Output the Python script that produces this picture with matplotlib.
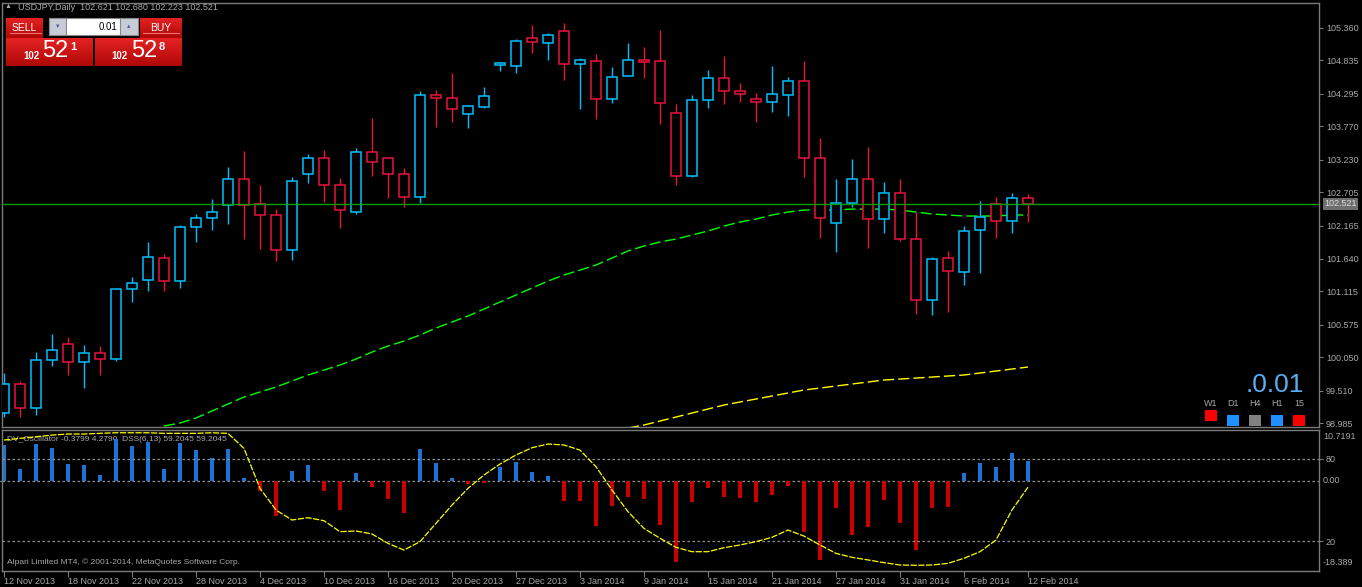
import numpy as np
import matplotlib
matplotlib.use("Agg")
import matplotlib.pyplot as plt
from matplotlib.colors import LinearSegmentedColormap
from matplotlib.patches import Rectangle

plt.rcParams['font.family'] = ['Liberation Sans', 'DejaVu Sans']

W, H = 1362, 587

# USDJPY daily candles, 12 Nov 2013 .. 12 Feb 2014
opens = [99.147, 99.614, 99.227, 100.000, 100.258, 99.968, 100.113, 100.017, 101.144, 101.289,
         101.644, 101.273, 102.144, 102.288, 102.498, 102.917, 102.514, 102.337, 101.773, 102.997,
         103.255, 102.820, 102.395, 103.352, 103.255, 102.997, 102.637, 104.270, 104.222, 103.974,
         104.087, 104.763, 104.747, 105.189, 105.118, 105.302, 104.770, 104.818, 104.206, 104.577,
         104.834, 104.818, 103.980, 102.975, 104.190, 104.544, 104.335, 104.206, 104.158, 104.270,
         104.496, 103.255, 102.208, 102.530, 102.917, 102.272, 102.691, 101.950, 100.967, 101.644,
         101.418, 102.095, 102.514, 102.240, 102.621]
highs = [99.791, 99.667, 100.134, 100.424, 100.376, 100.247, 100.231, 101.149, 101.343, 101.907,
         101.708, 102.181, 102.358, 102.599, 103.115, 103.373, 102.825, 102.438, 102.954, 103.325,
         103.389, 102.938, 103.421, 103.905, 103.271, 103.094, 104.340, 104.356, 104.630, 104.114,
         104.404, 104.807, 105.178, 105.403, 105.274, 105.435, 104.871, 104.936, 104.726, 105.113,
         105.049, 105.323, 104.130, 104.275, 104.673, 104.904, 104.469, 104.307, 104.743, 104.565,
         104.823, 103.582, 102.922, 103.244, 103.437, 102.873, 102.917, 102.395, 101.665, 101.762,
         102.164, 102.567, 102.632, 102.696, 102.680]
lows = [99.092, 99.092, 99.119, 99.913, 99.764, 99.559, 99.764, 99.989, 100.945, 101.117,
        101.117, 101.170, 101.911, 102.105, 102.202, 101.960, 101.799, 101.605, 101.621, 102.862,
        102.556, 102.137, 102.363, 102.975, 102.620, 102.475, 102.540, 103.764, 103.845, 103.748,
        104.071, 104.667, 104.635, 104.957, 104.844, 104.522, 104.054, 103.893, 104.151, 104.577,
        104.554, 103.813, 102.830, 102.959, 104.071, 104.135, 104.167, 103.845, 104.006, 103.942,
        102.959, 101.976, 101.750, 102.466, 101.815, 102.056, 101.928, 100.751, 100.735, 100.784,
        101.219, 101.412, 101.976, 102.056, 102.223]
closes = [99.614, 99.227, 100.005, 100.162, 99.968, 100.113, 100.017, 101.144, 101.241, 101.660,
          101.273, 102.144, 102.288, 102.385, 102.917, 102.498, 102.337, 101.773, 102.885, 103.255,
          102.820, 102.417, 103.352, 103.191, 102.997, 102.637, 104.270, 104.222, 104.054, 104.093,
          104.254, 104.786, 105.141, 105.124, 105.237, 104.770, 104.834, 104.206, 104.560, 104.834,
          104.802, 104.142, 102.975, 104.190, 104.544, 104.335, 104.287, 104.158, 104.287, 104.496,
          103.255, 102.288, 102.530, 102.917, 102.272, 102.691, 101.950, 100.967, 101.628, 101.434,
          102.079, 102.305, 102.240, 102.611, 102.521]

# moving averages (green from bar 10, yellow from bar 39)
ma_green_start = 10
ma_green = [98.942, 98.990, 99.071, 99.184, 99.296, 99.409, 99.490, 99.570, 99.667, 99.764,
            99.844, 99.925, 100.021, 100.134, 100.231, 100.311, 100.408, 100.521, 100.618, 100.714,
            100.827, 100.940, 101.053, 101.165, 101.278, 101.375, 101.455, 101.536, 101.649, 101.762,
            101.842, 101.907, 101.955, 102.019, 102.084, 102.164, 102.229, 102.277, 102.342, 102.390,
            102.422, 102.422, 102.422, 102.438, 102.438, 102.438, 102.422, 102.390, 102.358, 102.342,
            102.326, 102.326, 102.326, 102.342, 102.342]
ma_yellow_start = 39
ma_yellow = [98.910, 98.958, 99.022, 99.087, 99.151, 99.216, 99.280, 99.329, 99.377, 99.425,
             99.474, 99.522, 99.554, 99.586, 99.619, 99.651, 99.683, 99.699, 99.715, 99.731,
             99.748, 99.764, 99.796, 99.828, 99.860, 99.893]

# oscillator panel
osc_hist = [7.7, 2.6, 7.9, 7.1, 3.7, 3.5, 1.3, 9.0, 7.5, 8.4,
            2.6, 8.1, 6.7, 5.0, 6.9, 0.7, -2.1, -7.4, 2.2, 3.5,
            -2.1, -6.1, 1.8, -1.2, -3.8, -6.7, 6.9, 3.9, 0.7, -0.6,
            -0.4, 3.0, 4.1, 2.0, 1.1, -4.2, -4.2, -9.5, -5.2, -3.3,
            -3.8, -9.3, -17.2, -4.4, -1.4, -3.3, -3.5, -4.4, -2.9, -1.0,
            -10.8, -16.7, -5.7, -11.4, -9.7, -4.0, -8.9, -14.6, -5.7, -5.5,
            1.8, 3.9, 3.0, 6.0, 4.279]
dss = [93.6, 94.8, 96.0, 97.2, 98.0, 98.0, 98.5, 98.9, 98.9, 98.9,
       98.5, 98.5, 98.5, 98.9, 98.5, 87.5, 58.4, 42.6, 35.3, 37.0,
       34.8, 26.8, 27.3, 25.1, 18.3, 13.4, 19.5, 32.9, 46.2, 58.4,
       68.1, 76.1, 82.7, 88.0, 90.7, 90.0, 86.3, 74.2, 57.2, 41.4,
       29.2, 22.0, 15.4, 12.2, 12.2, 15.1, 17.1, 19.5, 22.7, 28.0,
       23.6, 17.1, 11.0, 8.1, 6.2, 4.2, 2.5, 2.3, 2.5, 3.7,
       7.4, 12.2, 20.7, 42.6, 59.2]

date_labels = ['12 Nov 2013', '18 Nov 2013', '22 Nov 2013', '28 Nov 2013', '4 Dec 2013',
               '10 Dec 2013', '16 Dec 2013', '20 Dec 2013', '27 Dec 2013', '3 Jan 2014',
               '9 Jan 2014', '15 Jan 2014', '21 Jan 2014', '27 Jan 2014', '31 Jan 2014',
               '6 Feb 2014', '12 Feb 2014']
price_ticks = [105.360, 104.835, 104.295, 103.770, 103.230, 102.705, 102.165,
               101.640, 101.115, 100.575, 100.050, 99.510, 98.985]
bid = 102.521

BULL = '#00bfff'
BEAR = '#e8143c'
GRAY = '#a8a8a8'
FRAME = '#7a7a7a'

fig = plt.figure(figsize=(W / 100, H / 100), dpi=100, facecolor='black')
ax = fig.add_axes([2 / W, 1 - 426.7 / H, 1317 / W, 424 / H])
ax_ind = fig.add_axes([2 / W, 1 - 571 / H, 1317 / W, 141 / H], sharex=ax)

for a in (ax, ax_ind):
    a.set_facecolor('black')
    for s in a.spines.values():
        s.set_color(FRAME)
        s.set_linewidth(1)

x = np.arange(len(opens))
o = np.array(opens)
c = np.array(closes)
cols = [BULL if cc > oo else BEAR for oo, cc in zip(o, c)]

# candles
ax.vlines(x, lows, highs, colors=cols, linewidth=1, zorder=2)
body = np.maximum(np.abs(c - o), 0.008)
ax.bar(x, body, bottom=np.minimum(o, c), width=0.6, facecolor='black',
       edgecolor=cols, linewidth=1.1, zorder=3)

ax.plot(x[ma_green_start:], ma_green, color='#00ff00', lw=1, dashes=(8, 3), zorder=1)
ax.plot(x[ma_yellow_start:], ma_yellow, color='#ffff00', lw=1, dashes=(8, 3), zorder=1)
ax.axhline(bid, color='#00a000', lw=1, zorder=4)

ax.set_xlim(-0.125, 82.19)
ax.set_ylim(98.931, 105.763)
ax.yaxis.tick_right()
ax.set_yticks(price_ticks)
ax.set_yticklabels([f'{p:.3f}' for p in price_ticks])
ax.tick_params(axis='y', colors=FRAME, labelcolor=GRAY, labelsize=6.5, length=3, pad=2,
               labelleft=False, left=False)
ax.tick_params(axis='x', length=0, labelbottom=False)
ax.annotate(f'{bid:.3f}', xy=(1.0, bid), xycoords=('axes fraction', 'data'),
            xytext=(5, 0), textcoords='offset pixels', va='center', ha='left',
            fontsize=6.5, color='#dcdcdc',
            bbox=dict(boxstyle='square,pad=0.15', fc='#6e6e6e', ec='none'))

# oscillator
hcols = ['#1c74d4' if v >= 0 else '#c80000' for v in osc_hist]
ax_ind.bar(x, osc_hist, width=0.2, color=hcols, zorder=2)
ax_ind.axhline(0, color='#909090', lw=0.9, dashes=(2, 2), zorder=1)
ax_ind.set_ylim(-19.06, 10.90)
ax_ind.yaxis.tick_right()
ax_ind.set_yticks([0], labels=[''])
ax_ind.tick_params(axis='y', colors=FRAME, length=3, labelleft=False, left=False)

ax_dss = ax_ind.twinx()
ax_dss.plot(x, dss, color='#ffff00', lw=0.9, dashes=(5, 1.2), zorder=3)
ax_dss.axhline(80, color='#909090', lw=0.9, dashes=(2, 2))
ax_dss.axhline(20, color='#909090', lw=0.9, dashes=(2, 2))
ax_dss.set_ylim(-1.87, 100.92)
ax_dss.set_yticks([80, 20])
ax_dss.set_yticklabels(['80', '20'])
ax_dss.tick_params(axis='y', colors=FRAME, labelcolor=GRAY, labelsize=6.5, length=3, pad=2,
                   labelleft=False, left=False)
ax_dss.tick_params(axis='x', bottom=False, labelbottom=False)
for s in ax_dss.spines.values():
    s.set_visible(False)

ind_labels = [(0.957, '10.7191'), (0.64, '0.00'), (0.059, '-18.389')]
for fy, txt in ind_labels:
    ax_ind.text(1.003, fy, txt, transform=ax_ind.transAxes, fontsize=6.5,
                color=GRAY, va='center', ha='left')

ax_ind.set_xticks(x[::4])
ax_ind.set_xticklabels(date_labels)
ax_ind.tick_params(axis='x', colors=FRAME, labelcolor=GRAY, labelsize=6.5,
                   length=4, pad=0.5)
for lbl in ax_ind.get_xticklabels():
    lbl.set_horizontalalignment('left')
ax.set_xlim(-0.125, 82.19)

ax_ind.text(0.004, 0.93, 'DV_Oscillator -0.3799 4.2790  DSS(6,13) 59.2045 59.2045',
            transform=ax_ind.transAxes, fontsize=6, color=GRAY, va='center', zorder=1)
ax_ind.text(0.004, 0.065, 'Alpari Limited MT4, \u00a9 2001-2014, MetaQuotes Software Corp.',
            transform=ax_ind.transAxes, fontsize=6, color=GRAY, va='center')

# overlay in pixel coordinates for the trading widgets
ov = fig.add_axes([0, 0, 1, 1], zorder=10)
ov.patch.set_alpha(0)
red_cmap = LinearSegmentedColormap.from_list('r', ['#e42222', '#b00808'])
grad = np.linspace(0, 1, 32).reshape(-1, 1)


def red_box(x0, y0, w, h):
    ov.imshow(grad, cmap=red_cmap, extent=(x0, x0 + w, y0 + h, y0), aspect='auto',
              interpolation='bilinear', zorder=1)


ov.text(8, 7, '\u25b2', fontsize=5, color=GRAY, va='center', ha='center')
ov.text(18, 7, 'USDJPY,Daily  102.621 102.680 102.223 102.521', fontsize=6.5,
        color=GRAY, va='center')

red_box(6, 18, 37, 20)
red_box(140, 18, 42, 20)
red_box(6, 38, 87, 28)
red_box(95, 38, 87, 28)
ov.plot([10, 41], [33, 33], color='#f07070', lw=0.8, zorder=2)
ov.plot([143, 179], [33, 33], color='#f07070', lw=0.8, zorder=2)
ov.add_patch(Rectangle((49, 18), 89, 17, fc='white', ec='#888888', lw=0.8, zorder=2))
ov.add_patch(Rectangle((49, 18), 17, 17, fc='#c8ccd6', ec='#888888', lw=0.8, zorder=3))
ov.add_patch(Rectangle((120, 18), 18, 17, fc='#c8ccd6', ec='#888888', lw=0.8, zorder=3))
ov.text(57.5, 26.5, '\u25bc', fontsize=4, color='#4a5a9a', ha='center', va='center', zorder=4)
ov.text(129, 26.5, '\u25b2', fontsize=4, color='#4a5a9a', ha='center', va='center', zorder=4)
ov.text(117, 26.5, '0.01', fontsize=7, color='black', ha='right', va='center', zorder=4)
ov.text(24.5, 28, 'SELL', fontsize=7.5, color='white', ha='center', va='center', zorder=4)
ov.text(161, 28, 'BUY', fontsize=7.5, color='white', ha='center', va='center', zorder=4)

ov.text(31, 56, '102', fontsize=7, color='white', weight='bold', ha='center', va='center', zorder=4)
ov.text(55.5, 51, '52', fontsize=17, color='white', ha='center', va='center', zorder=4)
ov.text(73.5, 47.5, '1', fontsize=8, color='white', weight='bold', ha='center', va='center', zorder=4)
ov.text(119, 56, '102', fontsize=7, color='white', weight='bold', ha='center', va='center', zorder=4)
ov.text(144, 51, '52', fontsize=17, color='white', ha='center', va='center', zorder=4)
ov.text(162, 47.5, '8', fontsize=8, color='white', weight='bold', ha='center', va='center', zorder=4)

# bottom-right spread / timeframe widget
ov.text(1304, 385, '.0.01', fontsize=19, color='#5aaef0', ha='right', va='center')
tf_labels = ['W1', 'D1', 'H4', 'H1', '15']
tf_x = [1211, 1233, 1255, 1277, 1299]
tf_cols = ['#ff0000', '#1e90ff', '#808080', '#1e90ff', '#ff0000']
tf_top = [410, 415, 415, 415, 415]
for lab, tx, tc, ty in zip(tf_labels, tf_x, tf_cols, tf_top):
    ov.text(tx, 404, lab, fontsize=6.5, color=GRAY, ha='center', va='center')
    ov.add_patch(Rectangle((tx - 6, ty), 12, 11, fc=tc, ec='none'))

ov.set_xlim(0, W)
ov.set_ylim(H, 0)
ov.axis('off')

fig.savefig('out.png', dpi=100, facecolor='black')
